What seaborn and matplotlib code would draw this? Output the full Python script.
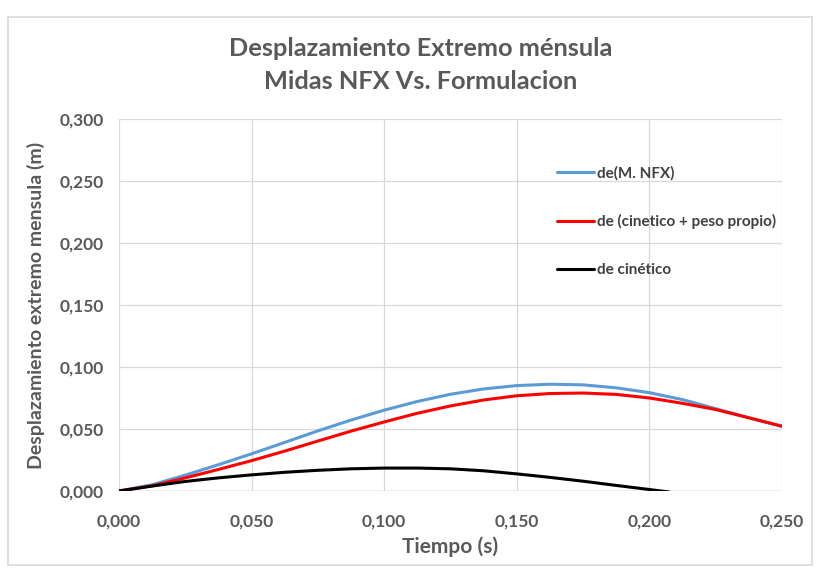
import matplotlib
matplotlib.use("Agg")
import matplotlib.pyplot as plt
from matplotlib.patches import Rectangle
from matplotlib.ticker import FuncFormatter, MultipleLocator
import numpy as np
import pandas as pd
import seaborn as sns

# tiempo (s) y desplazamientos (m)
t_nfx = [0, 0.0125, 0.025, 0.0375, 0.05, 0.0625, 0.075, 0.0875, 0.1, 0.1125,
         0.125, 0.1375, 0.15, 0.1625, 0.175, 0.1875, 0.2, 0.2125, 0.225, 0.2375, 0.25]
de_nfx = [0, 0.0050, 0.0128, 0.0212, 0.0300, 0.0392, 0.0485, 0.0572, 0.0652, 0.0722,
          0.0780, 0.0823, 0.0850, 0.0861, 0.0856, 0.0832, 0.0793, 0.0737, 0.0664, 0.0592, 0.0522]

t_cin_pp = t_nfx
de_cin_pp = [0, 0.0042, 0.0106, 0.0174, 0.0245, 0.0322, 0.0403, 0.0483, 0.0557, 0.0627,
             0.0686, 0.0734, 0.0768, 0.0786, 0.0790, 0.0779, 0.0750, 0.0707, 0.0657, 0.0590, 0.0522]

t_cin = [0, 0.0125, 0.025, 0.0375, 0.05, 0.0625, 0.075, 0.0875, 0.1, 0.1125,
         0.125, 0.1375, 0.15, 0.1625, 0.175, 0.1875, 0.2, 0.2075]
de_cin = [0, 0.0040, 0.0077, 0.0106, 0.0130, 0.0151, 0.0167, 0.0179, 0.0185, 0.0185,
          0.0179, 0.0163, 0.0138, 0.0110, 0.0079, 0.0045, 0.0012, -0.0008]

labels = ["de(M. NFX)", "de (cinetico + peso propio)", "de cinético"]
colors = ["#5B9BD5", "#FF0000", "#000000"]

df = pd.concat([
    pd.DataFrame({"t": t_nfx, "d": de_nfx, "serie": labels[0]}),
    pd.DataFrame({"t": t_cin_pp, "d": de_cin_pp, "serie": labels[1]}),
    pd.DataFrame({"t": t_cin, "d": de_cin, "serie": labels[2]}),
])

sns.set_style("white")
plt.rcParams["font.family"] = ["Lato", "DejaVu Sans"]

fig = plt.figure(figsize=(8.19, 5.72), dpi=100)
ax = fig.add_axes([0.1453, 0.1416, 0.8095, 0.6504])

sns.lineplot(data=df, x="t", y="d", hue="serie", hue_order=labels,
             palette=colors, sort=False, linewidth=2.2, ax=ax)

ax.set_xlim(0, 0.25)
ax.set_ylim(0, 0.3)
ax.xaxis.set_major_locator(MultipleLocator(0.05))
ax.yaxis.set_major_locator(MultipleLocator(0.05))
fmt = FuncFormatter(lambda v, p: f"{v:.3f}".replace(".", ","))
ax.xaxis.set_major_formatter(fmt)
ax.yaxis.set_major_formatter(fmt)
ax.grid(True, color="#d9d9d9", linewidth=0.9)
for s in ax.spines.values():
    s.set_visible(False)
ax.axhline(0, color="#bfbfbf", linewidth=1, zorder=0.5)
ax.tick_params(axis="both", length=0, labelsize=12.5, labelcolor="#595959")
ax.tick_params(axis="x", pad=16)
ax.tick_params(axis="y", pad=11)
for lab in ax.get_xticklabels() + ax.get_yticklabels():
    lab.set_fontweight("bold")

ax.set_xlabel("Tiempo (s)", fontsize=15, fontweight="bold", color="#595959", labelpad=5)
ax.set_ylabel("Desplazamiento extremo mensula (m)", fontsize=14, fontweight="bold",
              color="#595959", labelpad=10)

leg = ax.legend(loc="upper left", bbox_to_anchor=(0.64, 0.91), frameon=False,
                fontsize=11, handlelength=2.4, handletextpad=0.2, labelspacing=2.2)
for txt in leg.get_texts():
    txt.set_fontweight("bold")
    txt.set_color("#404040")

fig.text(0.514, 0.915, "Desplazamiento Extremo ménsula", ha="center", va="center",
         fontsize=18.3, fontweight="bold", color="#595959")
fig.text(0.514, 0.858, "Midas NFX Vs. Formulacion", ha="center", va="center",
         fontsize=18.3, fontweight="bold", color="#595959")

fig.patches.append(Rectangle((0.01, 0.012), 0.981, 0.958, transform=fig.transFigure,
                             fill=False, edgecolor="#d9d9d9", linewidth=1.2))

fig.savefig("out.png", dpi=100)
